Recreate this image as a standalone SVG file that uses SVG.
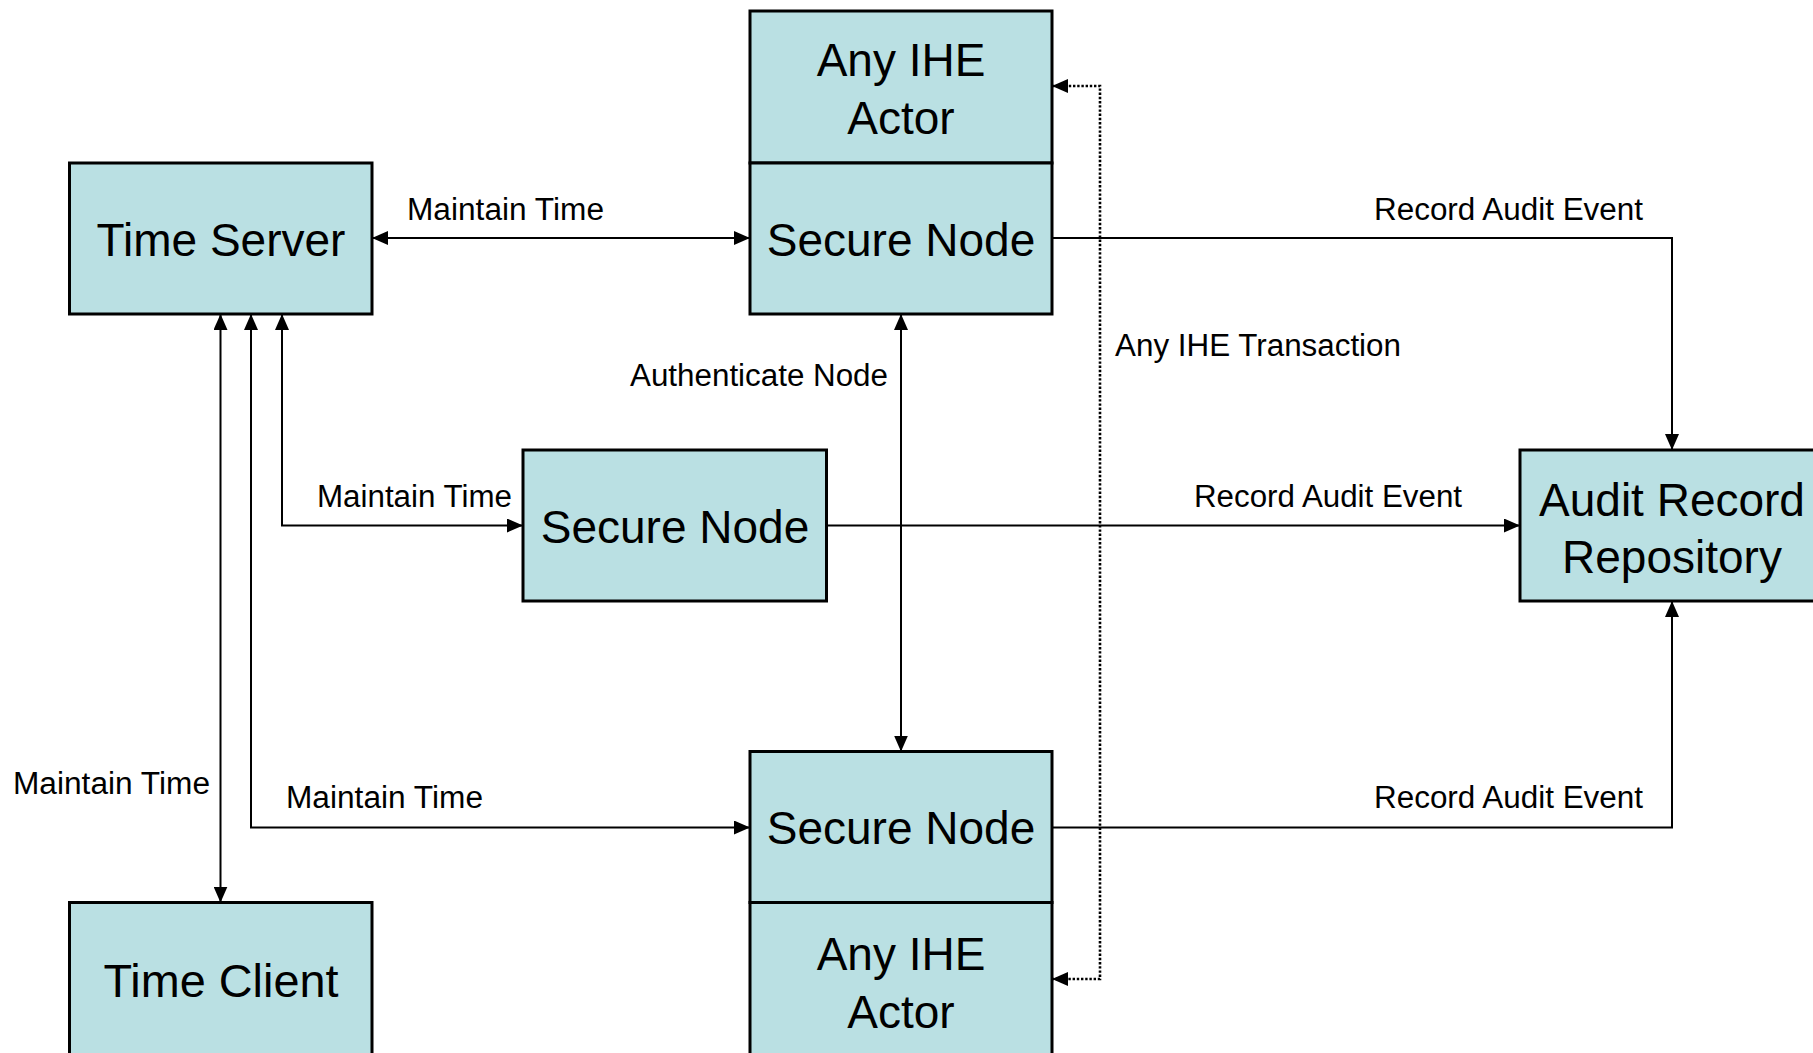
<svg xmlns="http://www.w3.org/2000/svg" width="1813" height="1053" viewBox="0 0 1813 1053">
<style>
.box{fill:#BAE0E3;stroke:#000;stroke-width:3}
.bt{font-family:"Liberation Sans",Arial,sans-serif;font-size:46px;fill:#000;text-anchor:middle}
.lt{font-family:"Liberation Sans",Arial,sans-serif;font-size:31px;fill:#000}
.c{fill:none;stroke:#000;stroke-width:2}
.d{fill:none;stroke:#000;stroke-width:2.6;stroke-dasharray:2.4,1.8}
</style>
<defs>
<marker id="arr" markerWidth="16" markerHeight="14" refX="16" refY="7" orient="auto-start-reverse" markerUnits="userSpaceOnUse"><path d="M0,0 L16,7 L0,14 z" fill="#000"/></marker>
</defs>
<rect width="1813" height="1053" fill="#fff"/>
<g id="time-server"><rect class="box" x="69.5" y="163" width="302.5" height="151"/><text class="bt" x="221" y="256">Time Server</text></g>
<g id="top-actor"><rect class="box" x="750" y="11" width="302" height="152"/><text class="bt" x="901" y="76">Any IHE</text><text class="bt" x="901" y="134">Actor</text></g>
<g id="top-secure-node"><rect class="box" x="750" y="163" width="302" height="151"/><text class="bt" x="901" y="256">Secure Node</text></g>
<g id="mid-secure-node"><rect class="box" x="523" y="450" width="303.5" height="151"/><text class="bt" x="675" y="543">Secure Node</text></g>
<g id="audit-repo"><rect class="box" x="1520" y="450" width="305" height="151"/><text class="bt" x="1672" y="516">Audit Record</text><text class="bt" x="1672" y="573">Repository</text></g>
<g id="bottom-secure-node"><rect class="box" x="750" y="751.5" width="302" height="151"/><text class="bt" x="901" y="844">Secure Node</text></g>
<g id="bottom-actor"><rect class="box" x="750" y="902.5" width="302" height="160"/><text class="bt" x="901" y="970">Any IHE</text><text class="bt" x="901" y="1028">Actor</text></g>
<g id="time-client"><rect class="box" x="69.5" y="902.5" width="302.5" height="160"/><text class="bt" x="221" y="997" textLength="235" lengthAdjust="spacingAndGlyphs">Time Client</text></g>
<g id="connectors">
<path class="c" d="M372,238 H750" marker-start="url(#arr)" marker-end="url(#arr)"/>
<path class="c" d="M1052,238 H1672 V450" marker-end="url(#arr)"/>
<path class="d" d="M1052,86 H1100 V979 H1052" marker-start="url(#arr)" marker-end="url(#arr)"/>
<path class="c" d="M901,314 V751.5" marker-start="url(#arr)" marker-end="url(#arr)"/>
<path class="c" d="M282,314 V525.5 H523" marker-start="url(#arr)" marker-end="url(#arr)"/>
<path class="c" d="M827,525.5 H1520" marker-end="url(#arr)"/>
<path class="c" d="M251,314 V827.5 H750" marker-start="url(#arr)" marker-end="url(#arr)"/>
<path class="c" d="M220.5,314 V902.5" marker-start="url(#arr)" marker-end="url(#arr)"/>
<path class="c" d="M1052,827.5 H1672 V601" marker-end="url(#arr)"/>
<text class="lt" x="407" y="220" textLength="197" lengthAdjust="spacingAndGlyphs">Maintain Time</text>
<text class="lt" x="1374" y="220" textLength="269" lengthAdjust="spacingAndGlyphs">Record Audit Event</text>
<text class="lt" x="1115" y="356" textLength="286" lengthAdjust="spacingAndGlyphs">Any IHE Transaction</text>
<text class="lt" x="630" y="386" textLength="258" lengthAdjust="spacingAndGlyphs">Authenticate Node</text>
<text class="lt" x="317" y="507" textLength="195" lengthAdjust="spacingAndGlyphs">Maintain Time</text>
<text class="lt" x="1194" y="507" textLength="268" lengthAdjust="spacingAndGlyphs">Record Audit Event</text>
<text class="lt" x="13" y="794" textLength="197" lengthAdjust="spacingAndGlyphs">Maintain Time</text>
<text class="lt" x="286" y="808" textLength="197" lengthAdjust="spacingAndGlyphs">Maintain Time</text>
<text class="lt" x="1374" y="808" textLength="269" lengthAdjust="spacingAndGlyphs">Record Audit Event</text>
</g>
</svg>
